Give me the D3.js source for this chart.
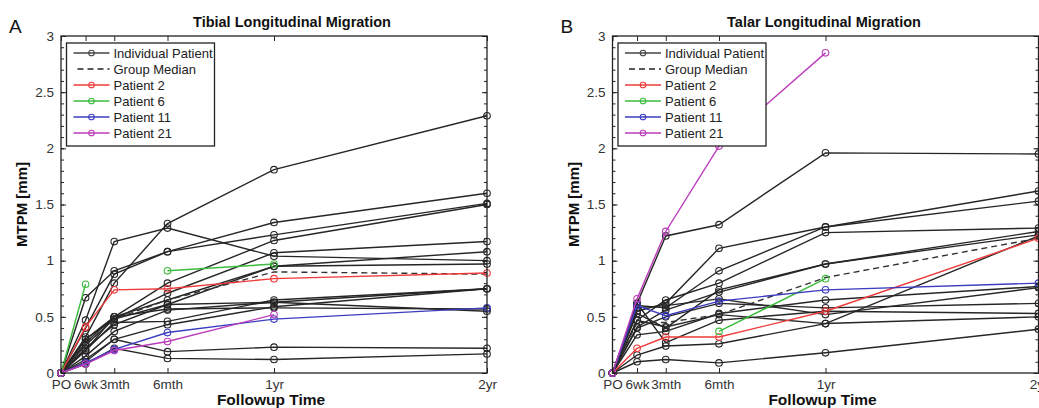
<!DOCTYPE html>
<html>
<head>
<meta charset="utf-8">
<script src="https://cdn.jsdelivr.net/npm/d3@7"></script>
<style>
  body { margin: 0; background: #fff; }
  svg { font-family: "Liberation Sans", Arial, sans-serif; }
</style>
</head>
<body>
<svg id="chart" width="1039" height="408"></svg>
<script>
// followup time points (weeks after op) and their labels
var timeLabels = ["PO", "6wk", "3mth", "6mth", "1yr", "2yr"];
var timeWeeks  = [0, 6, 13, 26, 52, 104];
var yTicks = [0, 0.5, 1, 1.5, 2, 2.5, 3];

// A - tibial, MTPM [mm] at each time point
var tibialIndividual = [
  [0, 0.47, 1.17, 1.29, 1.04, 1.00],
  [0, 0.32, 0.80, 1.33, 1.81, 2.29],
  [0, 0.67, 0.91, 1.08, 1.34, 1.60],
  [0, 0.40, 0.88, 1.08, 1.23, 1.51],
  [0, 0.30, 0.50, 0.80, 1.18, 1.50],
  [0, 0.25, 0.48, 0.71, 1.07, 1.17],
  [0, 0.20, 0.50, 0.65, 0.95, 1.08],
  [0, 0.22, 0.43, 0.61, 0.95, 0.97],
  [0, 0.15, 0.37, 0.56, 0.63, 0.75],
  [0, 0.30, 0.48, 0.61, 0.63, 0.55],
  [0, 0.20, 0.45, 0.46, 0.65, 0.75],
  [0, 0.12, 0.30, 0.43, 0.59, 0.75],
  [0, 0.10, 0.30, 0.19, 0.23, 0.22],
  [0, 0.08, 0.22, 0.13, 0.12, 0.17],
  [0, 0.27, 0.50, 0.57, 0.58, 0.57]
];
var tibialMedian = [0, 0.25, 0.48, 0.65, 0.90, 0.88];
var tibialP2  = [0, 0.41, 0.74, 0.75, 0.84, 0.89];
var tibialP6  = [0, 0.79, null, 0.91, 0.97, null];
var tibialP11 = [0, 0.09, 0.21, 0.36, 0.48, 0.58];
var tibialP21 = [0, 0.08, 0.20, 0.28, 0.52, null];

// B - talar
var talarIndividual = [
  [0, 0.62, 1.22, 1.32, 1.96, 1.95],
  [0, 0.55, 0.62, 1.11, 1.30, 1.62],
  [0, 0.60, 0.58, 0.91, 1.30, 1.53],
  [0, 0.47, 0.65, 0.80, 1.25, 1.29],
  [0, 0.53, 0.40, 0.74, 0.97, 1.26],
  [0, 0.41, 0.56, 0.72, 0.97, 1.23],
  [0, 0.34, 0.37, 0.53, 0.65, 0.77],
  [0, 0.62, 0.27, 0.47, 0.55, 0.53],
  [0, 0.16, 0.24, 0.26, 0.44, 1.22],
  [0, 0.10, 0.12, 0.09, 0.18, 0.39],
  [0, 0.47, 0.41, 0.52, 0.44, 0.50],
  [0, 0.58, 0.60, 0.66, 0.52, 0.76],
  [0, 0.40, 0.50, 0.62, 0.58, 0.62]
];
var talarMedian = [0, 0.45, 0.45, 0.52, 0.85, 1.20];
var talarP2  = [0, 0.22, 0.32, 0.32, 0.55, 1.20];
var talarP6  = [null, null, null, 0.37, 0.84, null];
var talarP11 = [0, 0.60, 0.51, 0.64, 0.74, 0.80];
var talarP21 = [0, 0.66, 1.26, 2.02, 2.85, null];

var patientColors = { p2: "#ee3b3b", p6: "#3cbc3c", p11: "#3c3cc0", p21: "#bb3cbb" };
var blackLine = "#262626";

var panels = [
  { letter: "A", title: "Tibial Longitudinal Migration", left: 61, titleX: 292,
    individual: tibialIndividual, median: tibialMedian,
    p2: tibialP2, p6: tibialP6, p11: tibialP11, p21: tibialP21 },
  { letter: "B", title: "Talar Longitudinal Migration", left: 612.5, titleX: 824,
    individual: talarIndividual, median: talarMedian,
    p2: talarP2, p6: talarP6, p11: talarP11, p21: talarP21 }
];

var plotTop = 36, plotBottom = 373, plotWidth = 426;
var svg = d3.select("#chart");

function toPoints(vals){
  return vals.map(function (v, i){ return { t: timeWeeks[i], v: v }; });
}

panels.forEach(function (p){
  var x = d3.scaleLinear().domain([0, 104]).range([p.left, p.left + plotWidth]);
  var y = d3.scaleLinear().domain([0, 3]).range([plotBottom, plotTop]);
  var g = svg.append("g");

  var line = d3.line()
    .defined(function (d){ return d.v != null; })
    .x(function (d){ return x(d.t); })
    .y(function (d){ return y(d.v); });

  function drawSeries(vals, color, dashed, markers){
    var pts = toPoints(vals);
    g.append("path")
      .attr("d", line(pts))
      .attr("fill", "none")
      .attr("stroke", color)
      .attr("stroke-width", 1.4)
      .attr("stroke-dasharray", dashed ? "6,4" : null);
    if (markers){
      g.selectAll(null).data(pts.filter(function (d){ return d.v != null; }))
        .enter().append("circle")
        .attr("cx", function (d){ return x(d.t); })
        .attr("cy", function (d){ return y(d.v); })
        .attr("r", 3.3)
        .attr("fill", "none")
        .attr("stroke", color)
        .attr("stroke-width", 1.1);
    }
  }

  p.individual.forEach(function (vals){ drawSeries(vals, blackLine, false, true); });
  drawSeries(p.median, "#333", true, false);
  drawSeries(p.p2,  patientColors.p2,  false, true);
  drawSeries(p.p6,  patientColors.p6,  false, true);
  drawSeries(p.p11, patientColors.p11, false, true);
  drawSeries(p.p21, patientColors.p21, false, true);

  // axes: ticks point inward
  var minor = d3.range(0, 31).map(function (i){ return i / 10; });
  var axes = g.append("g");
  axes.append("g").attr("transform", "translate(" + p.left + ",0)")
    .call(d3.axisLeft(y).tickValues(minor).tickSize(-3).tickFormat(""));
  axes.append("g").attr("transform", "translate(" + p.left + ",0)")
    .call(d3.axisLeft(y).tickValues(yTicks).tickSize(-5).tickPadding(7)
      .tickFormat(function (d){ return d; }));
  axes.append("g").attr("transform", "translate(" + (p.left + plotWidth) + ",0)")
    .call(d3.axisRight(y).tickValues(minor).tickSize(-3).tickFormat(""));
  axes.append("g").attr("transform", "translate(" + (p.left + plotWidth) + ",0)")
    .call(d3.axisRight(y).tickValues(yTicks).tickSize(-5).tickFormat(""));
  axes.append("g").attr("transform", "translate(0," + plotTop + ")")
    .call(d3.axisTop(x).tickValues(timeWeeks).tickSize(-5).tickFormat(""));
  axes.append("g").attr("transform", "translate(0," + plotBottom + ")")
    .call(d3.axisBottom(x).tickValues(timeWeeks).tickSize(-5).tickPadding(6)
      .tickFormat(function (d, i){ return timeLabels[i]; }));
  axes.selectAll(".domain").remove();
  axes.selectAll("line").attr("stroke", "#222");
  axes.selectAll("text").attr("font-size", 13.5).attr("fill", "#333")
    .attr("font-family", "Liberation Sans, Arial, sans-serif");

  g.append("rect")
    .attr("x", p.left).attr("y", plotTop)
    .attr("width", plotWidth).attr("height", plotBottom - plotTop)
    .attr("fill", "none").attr("stroke", "#222").attr("stroke-width", 1.3);

  // legend
  var lx = p.left + 5.5, ly = 43;
  var leg = g.append("g");
  leg.append("rect").attr("x", lx).attr("y", ly).attr("width", 148).attr("height", 103)
    .attr("fill", "#fff").attr("stroke", "#222").attr("stroke-width", 1.3);
  var legItems = [
    { name: "Individual Patient", color: "#444", dashed: false, marker: true },
    { name: "Group Median", color: "#222", dashed: true, marker: false },
    { name: "Patient 2", color: patientColors.p2, dashed: false, marker: true },
    { name: "Patient 6", color: patientColors.p6, dashed: false, marker: true },
    { name: "Patient 11", color: patientColors.p11, dashed: false, marker: true },
    { name: "Patient 21", color: patientColors.p21, dashed: false, marker: true }
  ];
  legItems.forEach(function (it, i){
    var yy = ly + 10 + i * 16;
    leg.append("line")
      .attr("x1", lx + (it.dashed ? 11 : 7)).attr("x2", lx + 43)
      .attr("y1", yy).attr("y2", yy)
      .attr("stroke", it.color).attr("stroke-width", 1.5)
      .attr("stroke-dasharray", it.dashed ? "6,4" : null);
    if (it.marker){
      leg.append("circle").attr("cx", lx + 25).attr("cy", yy).attr("r", 2.8)
        .attr("fill", "none").attr("stroke", it.color).attr("stroke-width", 1.1);
    }
    leg.append("text").attr("x", lx + 47).attr("y", yy + 4.5)
      .attr("font-size", 13).attr("fill", "#222").text(it.name);
  });

  // titles and labels
  g.append("text").attr("x", p.titleX).attr("y", 27).attr("text-anchor", "middle")
    .attr("font-size", 14.5).attr("font-weight", "bold").attr("fill", "#111").text(p.title);
  g.append("text").attr("x", p.left - 52).attr("y", 33)
    .attr("font-size", 19).attr("fill", "#111").text(p.letter);
  g.append("text")
    .attr("transform", "translate(" + (p.left - 34) + "," + ((plotTop + plotBottom) / 2) + ") rotate(-90)")
    .attr("text-anchor", "middle").attr("font-size", 15).attr("font-weight", "bold")
    .attr("fill", "#111").text("MTPM [mm]");
  g.append("text").attr("x", p.left + plotWidth / 2 - 3).attr("y", 405)
    .attr("text-anchor", "middle").attr("font-size", 15.5).attr("font-weight", "bold")
    .attr("fill", "#111").text("Followup Time");
});
</script>
</body>
</html>
